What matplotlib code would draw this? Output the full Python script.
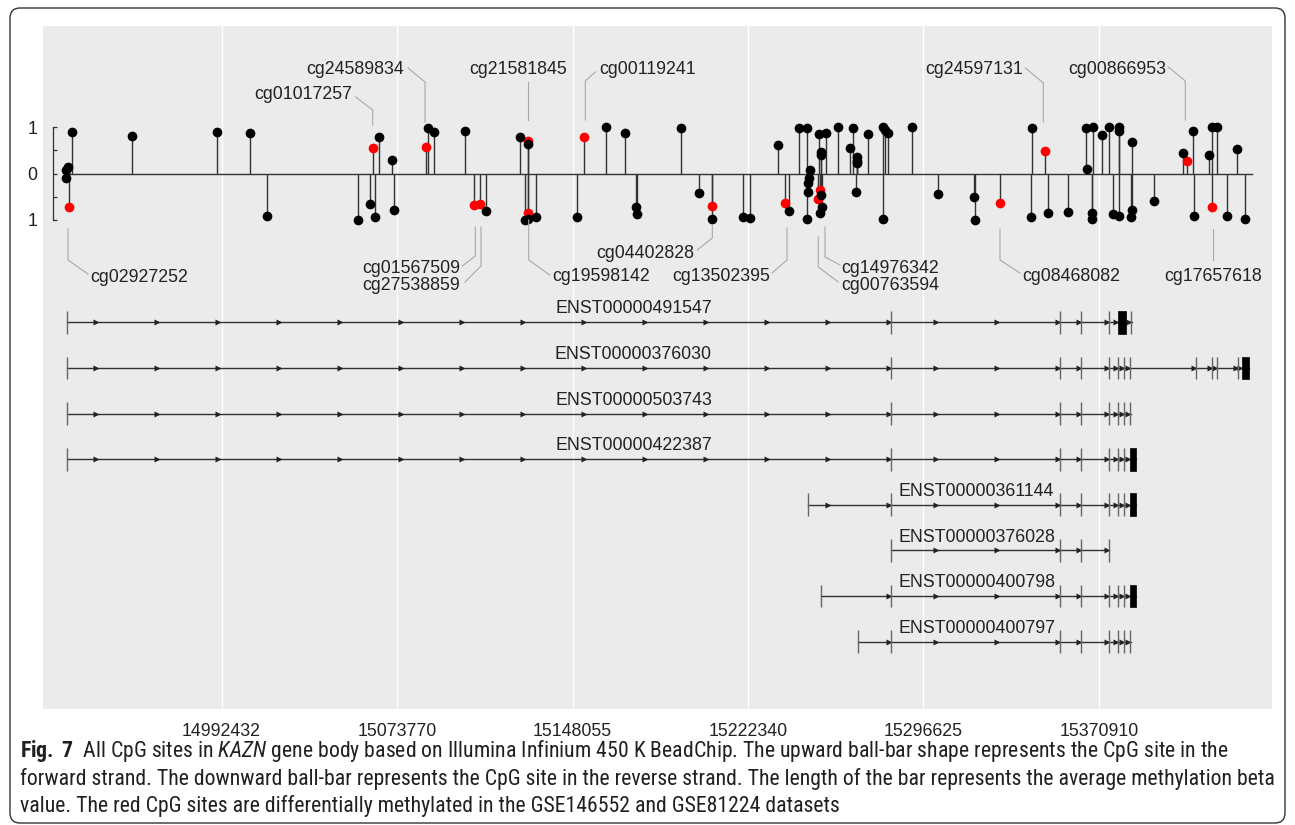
import matplotlib
matplotlib.use('Agg')
import matplotlib.pyplot as plt
from matplotlib import font_manager
from matplotlib.lines import Line2D
from matplotlib.patches import Rectangle, FancyBboxPatch
from matplotlib.transforms import Affine2D

plt.rcParams['font.family'] = ['Liberation Sans', 'DejaVu Sans']

W, H, DPI = 1295, 825, 100

#---------------------------------------
# CpG sites: position (bp), mean beta, differentially methylated (1 = red)
#---------------------------------------
fwd_pos = [14934500, 14933860, 14936400, 14961590, 14997690, 15011660, 15063480, 15066270,
           15071650, 15086040, 15087010, 15089420, 15102550, 15125700, 15129090, 15129210,
           15153050, 15162360, 15170400, 15193850, 15234910, 15243930, 15247190, 15248580,
           15252520, 15253110, 15253200, 15255480, 15260310, 15265640, 15266790, 15268480,
           15268500, 15268350, 15273140, 15279490, 15280330, 15281730, 15291630, 15342680,
           15348190, 15365840, 15365540, 15368380, 15372060, 15375150, 15379260, 15379400,
           15384890, 15406350, 15408300, 15410840, 15417480, 15418880, 15420740, 15429460]
fwd_beta = [0.15, 0.08, 0.90, 0.81, 0.89, 0.88, 0.54, 0.78,
            0.29, 0.58, 0.99, 0.90, 0.91, 0.78, 0.70, 0.64,
            0.79, 1.00, 0.88, 0.99, 0.61, 0.99, 0.99, 0.08,
            0.86, 0.47, 0.40, 0.87, 1.00, 0.56, 0.99, 0.36,
            0.27, 0.22, 0.86, 1.00, 0.94, 0.88, 1.00, 0.99,
            0.49, 0.10, 0.99, 1.00, 0.84, 1.00, 1.00, 0.91,
            0.67, 0.45, 0.27, 0.92, 0.40, 1.00, 1.00, 0.52]
fwd_dm = [0, 0, 0, 0, 0, 0, 1, 0,
          0, 1, 0, 0, 0, 0, 1, 0,
          1, 0, 0, 0, 0, 0, 0, 0,
          0, 0, 0, 0, 0, 0, 0, 0,
          0, 0, 0, 0, 0, 0, 0, 0,
          1, 0, 0, 0, 0, 0, 0, 0,
          0, 0, 1, 0, 0, 0, 0, 0]

rev_pos = [14933860, 14934920, 15018610, 15057130, 15062460, 15064580, 15072490, 15106480,
           15108900, 15111560, 15129090, 15127940, 15129340, 15132470, 15150080, 15175060,
           15175230, 15201470, 15207230, 15206970, 15220100, 15223060, 15238000, 15239570,
           15247440, 15247610, 15247700, 15248160, 15252820, 15252100, 15253240, 15253540,
           15252900, 15268180, 15279360, 15302640, 15317880, 15318560, 15329010, 15342010,
           15349330, 15357800, 15368080, 15367960, 15376720, 15379260, 15384760, 15384590,
           15394200, 15411000, 15418620, 15425100, 15432720]
rev_beta = [0.10, 0.72, 0.91, 1.00, 0.65, 0.94, 0.78, 0.68,
            0.65, 0.81, 0.85, 1.00, 0.99, 0.95, 0.94, 0.73,
            0.87, 0.43, 0.71, 0.98, 0.94, 0.96, 0.63, 0.81,
            0.99, 0.41, 0.20, 0.10, 0.36, 0.54, 0.47, 0.73,
            0.86, 0.41, 0.98, 0.44, 0.50, 1.00, 0.63, 0.95,
            0.85, 0.83, 0.85, 0.99, 0.88, 0.92, 0.79, 0.94,
            0.59, 0.91, 0.72, 0.91, 0.98]
rev_dm = [0, 1, 0, 0, 0, 0, 0, 1,
          1, 0, 1, 0, 0, 0, 0, 0,
          0, 0, 1, 0, 0, 0, 1, 0,
          0, 0, 0, 0, 1, 1, 0, 0,
          0, 0, 0, 0, 0, 0, 1, 0,
          0, 0, 0, 0, 0, 0, 0, 0,
          0, 0, 1, 0, 0]

#---------------------------------------
# transcripts: exons as (start, end) in bp
#---------------------------------------
tx_names = ['ENST00000491547', 'ENST00000376030', 'ENST00000503743', 'ENST00000422387',
            'ENST00000361144', 'ENST00000376028', 'ENST00000400798', 'ENST00000400797']
tx_exons = [
    [(14933861, 14934000), (15282957, 15283100), (15354240, 15354380), (15363299, 15363440),
     (15375024, 15375160), (15378876, 15382220), (15384549, 15384690)],
    [(14933861, 14934000), (15282957, 15283100), (15354240, 15354380), (15363299, 15363440),
     (15375024, 15375160), (15378876, 15379010), (15381712, 15381850), (15384210, 15384350),
     (15411978, 15412110), (15418709, 15418840), (15420698, 15420830), (15429757, 15429890),
     (15431450, 15434413)],
    [(14933861, 14934000), (15282957, 15283100), (15354240, 15354380), (15363299, 15363440),
     (15375024, 15375160), (15378876, 15379010), (15381712, 15381850), (15384210, 15384350)],
    [(14933861, 14934000), (15282957, 15283100), (15354240, 15354380), (15363299, 15363440),
     (15375024, 15375160), (15378876, 15379010), (15381712, 15381850), (15384210, 15386411)],
    [(15247823, 15247960), (15282957, 15283100), (15354240, 15354380), (15363299, 15363440),
     (15375024, 15375160), (15378876, 15379010), (15381712, 15381850), (15384210, 15386411)],
    [(15282957, 15283100), (15354240, 15354380), (15363299, 15363440), (15375024, 15375160)],
    [(15253156, 15253290), (15282957, 15283100), (15354240, 15354380), (15363299, 15363440),
     (15375024, 15375160), (15378876, 15379010), (15381712, 15381850), (15384210, 15386411)],
    [(15269072, 15269210), (15282957, 15283100), (15354240, 15354380), (15363299, 15363440),
     (15375024, 15375160), (15378876, 15379010), (15381712, 15381850), (15384210, 15384350)],
]

tick_labels = ['14992432', '15073770', '15148055', '15222340', '15296625', '15370910']
tick_step = 74285

caption = [
    r"$\bf{Fig.\ 7}$  All CpG sites in $\it{KAZN}$ gene body based on Illumina Infinium 450 K BeadChip. "
    r"The upward ball-bar shape represents the CpG site in the",
    "forward strand. The downward ball-bar represents the CpG site in the reverse strand. "
    "The length of the bar represents the average methylation beta",
    "value. The red CpG sites are differentially methylated in the GSE146552 and GSE81224 datasets",
]

#---------------------------------------
# layout
#---------------------------------------
XLIM = (14923913, 15444149)
PANEL = '#EBEBEB'
INK = '#222222'
STEM = '#333333'
LEADER = '#A8A8A8'
FS = 12.8
CAP_HALF = 0.358 * FS * DPI / 72.0

pix = Affine2D().scale(1, -1).translate(0, H)

def rect(x0, y0, x1, y1):
    return [x0 / W, (H - y1) / H, (x1 - x0) / W, (y1 - y0) / H]

fig = plt.figure(figsize=(W / DPI, H / DPI), dpi=DPI)
fig.patch.set_facecolor('white')

# outer frame of the figure panel
fig.add_artist(FancyBboxPatch((10, 8), 1275, 815, boxstyle='round,pad=0,rounding_size=10',
                              transform=pix, fill=False, ec='#333333', lw=1.0))

# gray background track with position axis
ax_bg = fig.add_axes(rect(43, 26, 1272, 709))
ax_bg.set_facecolor(PANEL)
ax_bg.set_xlim(*XLIM)
ax_bg.set_ylim(0, 1)
tick_pos = [int(tick_labels[-1]) - tick_step * k for k in range(len(tick_labels) - 1, -1, -1)]
ax_bg.set_xticks(tick_pos)
ax_bg.set_xticklabels(tick_labels, fontsize=FS, color=INK)
ax_bg.tick_params(axis='x', length=0, pad=10)
ax_bg.set_yticks([])
ax_bg.grid(axis='x', color='white', lw=1.0)
ax_bg.set_axisbelow(True)
for s in ax_bg.spines.values():
    s.set_visible(False)

#---------------------------------------
# methylation ball-bar track
#---------------------------------------
ax_m = fig.add_axes(rect(43, 127.2, 1272, 219.8))
ax_m.patch.set_visible(False)
ax_m.set_xlim(*XLIM)
ax_m.set_ylim(-1, 1)
for k in ['top', 'right', 'bottom']:
    ax_m.spines[k].set_visible(False)
ax_m.spines['left'].set_position(('outward', -7.2))
ax_m.spines['left'].set_color(STEM)
ax_m.spines['left'].set_linewidth(0.9)
ax_m.set_xticks([])
ax_m.set_yticks([-1, -0.5, 0, 0.5, 1])
ax_m.set_yticklabels(['1', '', '0', '', '1'], fontsize=FS, color=INK)
ax_m.tick_params(axis='y', direction='in', length=3, width=0.9, color=STEM, pad=11)

all_pos = fwd_pos + rev_pos
ax_m.plot([min(all_pos), max(all_pos) + 3000], [0, 0], color=STEM, lw=1.0, zorder=1,
          clip_on=False)
ax_m.vlines(fwd_pos, 0, fwd_beta, color=STEM, lw=1.0, zorder=2, clip_on=False)
ax_m.vlines(rev_pos, 0, [-b for b in rev_beta], color=STEM, lw=1.0, zorder=2, clip_on=False)

for pos, beta, dm, sign in ([(p, b, d, 1) for p, b, d in zip(fwd_pos, fwd_beta, fwd_dm)] +
                            [(p, b, d, -1) for p, b, d in zip(rev_pos, rev_beta, rev_dm)]):
    ax_m.plot(pos, sign * beta, 'o', ms=7.0, mec='none',
              color='#FF0000' if dm else 'black', zorder=3 if dm else 4, clip_on=False)

# labels of the differentially methylated sites with leader lines (pixel layout)
# name, site, leader dx, y start, y bend, end dx, end y, text dx, text y, ha
labels = [
    ('cg01017257', 15063480, 0, 125, 110, -17, 97, -20, 93, 'right'),
    ('cg24589834', 15086040, -1, 122, 82, -17, 68, -21, 68, 'right'),
    ('cg21581845', 15129090, 0, 120, 82, 0, 82, -10, 68, 'center'),
    ('cg00119241', 15153050, 1, 120, 81, 10, 72, 14, 68, 'left'),
    ('cg24597131', 15348190, -2, 122, 83, -18, 68, -20, 68, 'right'),
    ('cg00866953', 15408300, -2, 120, 81, -17, 67, -19, 68, 'right'),
    ('cg02927252', 14934920, -1, 229, 260, 20, 274, 22, 276, 'left'),
    ('cg01567509', 15106480, 1, 227, 256, -13, 266, -15, 267, 'right'),
    ('cg27538859', 15108900, 1, 227, 266, -16, 282, -21, 284, 'right'),
    ('cg19598142', 15129090, 1, 220, 260, 21, 275, 24, 275, 'left'),
    ('cg04402828', 15207230, 0, 225, 238, -15, 250, -18, 252, 'right'),
    ('cg13502395', 15238000, 2, 228, 260, -15, 273, -17, 275, 'right'),
    ('cg14976342', 15252820, 5, 227, 257, 15, 265, 16, 267, 'left'),
    ('cg00763594', 15252100, 0, 237, 267, 20, 282, 23, 284, 'left'),
    ('cg08468082', 15329010, 0, 229, 260, 20, 273, 22, 275, 'left'),
    ('cg17657618', 15418620, 1, 229, 260, 0, 260, 0, 275, 'center'),
]
for name, site, ldx, y0, y1, edx, ey, tdx, ty, ha in labels:
    sx = ax_m.transData.transform((site, 0))[0] + ldx
    fig.add_artist(Line2D([sx, sx, sx + edx], [y0, y1, ey], transform=pix,
                          color=LEADER, lw=0.8))
    fig.text(sx + tdx, ty + CAP_HALF, name, transform=pix, ha=ha, va='baseline',
             fontsize=FS, color=INK)

#---------------------------------------
# transcript track
#---------------------------------------
ax_t = fig.add_axes(rect(43, 299.5, 1272, 664.5))
ax_t.patch.set_visible(False)
ax_t.set_xlim(*XLIM)
ax_t.set_ylim(len(tx_names) - 0.5, -0.5)
ax_t.axis('off')

bp_per_px = (XLIM[1] - XLIM[0]) / (1272 - 43)
arrow_step = 61 * bp_per_px
tx_label_x = [15173870] * 4 + [15285835] * 4
tx_label_ha = ['center'] * 4 + ['left'] * 4

for row, (name, exons) in enumerate(zip(tx_names, tx_exons)):
    ax_t.plot([exons[0][0], exons[-1][1]], [row, row], color=STEM, lw=1.0, zorder=1)
    arrows = []
    for (s0, e0), (s1, e1) in zip(exons[:-1], exons[1:]):
        x = s1 - 2 * bp_per_px
        arrows.append(x)
        x -= arrow_step
        while x > e0 + 15 * bp_per_px:
            arrows.append(x)
            x -= arrow_step
    ax_t.plot(arrows, [row] * len(arrows), linestyle='none', marker='>', ms=3.8,
              color='#222222', mec='none', zorder=2)
    for s, e in exons:
        if e - s < 1000:
            ax_t.vlines(s, row - 0.248, row + 0.248, color='#666666', lw=1.0, zorder=3)
        else:
            ax_t.add_patch(Rectangle((s, row - 0.25), e - s, 0.5, fc='black', ec='black',
                                     lw=0.5, zorder=3))
    ax_t.text(tx_label_x[row], row - 0.195, name, ha=tx_label_ha[row], va='baseline',
              fontsize=FS, color=INK)

#---------------------------------------
# caption
#---------------------------------------
names = {f.name for f in font_manager.fontManager.ttflist}
cap_font = next((n for n in ['Liberation Sans Narrow', 'Roboto Condensed', 'Open Sans Condensed']
                 if n in names), 'Liberation Sans')
plt.rcParams['mathtext.fontset'] = 'custom'
plt.rcParams['mathtext.rm'] = cap_font
plt.rcParams['mathtext.it'] = cap_font + ':italic'
plt.rcParams['mathtext.bf'] = cap_font + ':bold'

renderer = fig.canvas.get_renderer()
probe = fig.text(0, 0, caption[1], fontsize=13, family=cap_font)
cap_fs = 13 * 1252 / probe.get_window_extent(renderer=renderer).width
probe.remove()

for i, line in enumerate(caption):
    fig.text(20, 757 + 27.5 * i, line, transform=pix, fontsize=cap_fs, family=cap_font,
             color='#231F20', va='baseline')

fig.savefig('out.png', dpi=DPI)
